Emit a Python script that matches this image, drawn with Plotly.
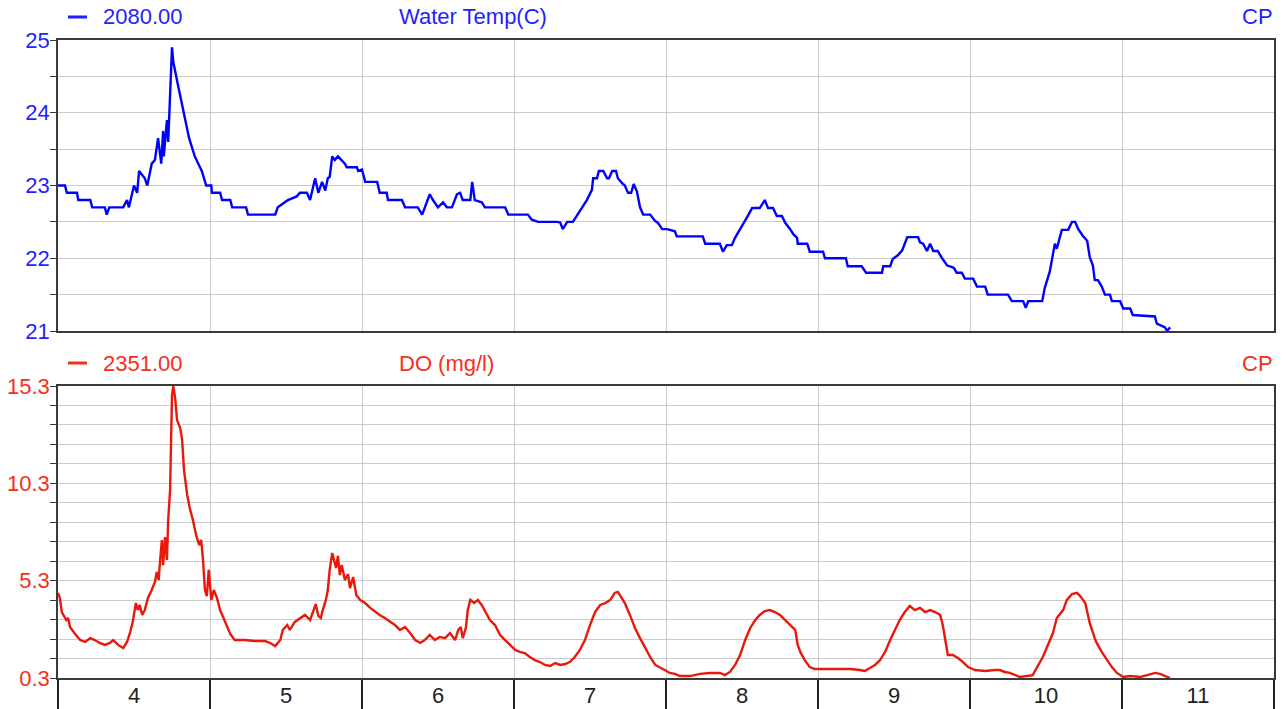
import plotly.graph_objects as go

# ---------------- data ----------------
day_labels = ["4", "5", "6", "7", "8", "9", "10", "11"]
first_day = 4

# Water Temp (C): hours since start of day 4, value (10 per line)
temp_hours = [
    0.0, 1.1, 1.4, 3.0, 3.2, 5.1, 5.4, 7.4, 7.7, 8.1,
    10.3, 10.9, 11.2, 12.0, 12.5, 12.8, 13.7, 14.1, 14.8, 15.3,
    15.8, 16.3, 16.6, 16.7, 17.2, 17.4, 18.0, 18.2, 18.9, 19.7,
    20.7, 21.6, 22.7, 23.4, 24.2, 24.3, 25.6, 25.9, 27.2, 27.5,
    29.7, 30.0, 34.3, 34.7, 36.3, 37.7, 38.2, 39.3, 39.8, 40.6,
    41.1, 41.7, 42.2, 42.6, 42.9, 43.3, 43.7, 44.2, 44.8, 45.3,
    45.6, 47.2, 47.4, 48.0, 48.5, 50.4, 50.8, 51.9, 52.1, 54.3,
    54.8, 56.8, 57.5, 57.9, 58.7, 59.2, 60.0, 60.8, 61.4, 62.2,
    63.0, 63.5, 63.9, 65.1, 65.4, 65.8, 66.9, 67.4, 70.6, 71.1,
    74.2, 74.8, 75.8, 78.9, 79.3, 79.7, 80.4, 81.3, 81.9, 82.7,
    83.5, 84.3, 84.5, 85.1, 85.4, 86.1, 86.7, 87.0, 87.5, 88.1,
    88.4, 89.1, 89.5, 90.0, 90.5, 90.9, 91.4, 91.9, 92.4, 93.5,
    94.3, 94.7, 95.4, 96.2, 97.4, 97.7, 101.8, 102.2, 104.5, 105.0,
    105.6, 106.4, 106.9, 107.7, 108.5, 108.9, 109.6, 110.8, 111.6, 112.1,
    112.9, 113.5, 114.3, 114.8, 115.6, 116.1, 116.7, 116.8, 118.3, 118.7,
    120.8, 121.1, 124.4, 124.7, 126.9, 127.6, 130.1, 130.3, 131.4, 131.8,
    132.6, 133.3, 134.1, 135.8, 136.1, 136.6, 137.2, 137.7, 138.2, 138.9,
    139.6, 140.4, 141.2, 141.5, 141.9, 142.7, 143.2, 144.5, 145.1, 146.4,
    146.8, 150.0, 150.6, 152.4, 152.8, 153.2, 155.4, 155.8, 156.6, 157.1,
    157.4, 157.7, 158.2, 158.5, 159.5, 160.1, 160.6, 161.1, 161.8, 162.5,
    162.9, 163.4, 163.7, 164.2, 164.8, 165.3, 166.1, 166.4, 167.7, 168.2,
    169.3, 169.7, 173.2, 173.5, 174.8, 175.1, 175.6]
temp_values = [
    23.0, 23.0, 22.9, 22.9, 22.8, 22.8, 22.7, 22.7, 22.6, 22.7,
    22.7, 22.8, 22.7, 23.0, 22.9, 23.2, 23.1, 23.0, 23.3, 23.35,
    23.65, 23.3, 23.75, 23.4, 23.9, 23.6, 24.9, 24.7, 24.4, 24.05,
    23.65, 23.4, 23.2, 23.0, 23.0, 22.9, 22.9, 22.8, 22.8, 22.7,
    22.7, 22.6, 22.6, 22.7, 22.8, 22.85, 22.9, 22.9, 22.8, 23.1,
    22.9, 23.05, 22.93, 23.1, 23.12, 23.4, 23.35, 23.4, 23.35, 23.3,
    23.25, 23.25, 23.2, 23.22, 23.05, 23.05, 22.9, 22.9, 22.8, 22.8,
    22.7, 22.7, 22.6, 22.7, 22.88, 22.8, 22.7, 22.77, 22.7, 22.7,
    22.88, 22.9, 22.8, 22.8, 23.05, 22.8, 22.77, 22.7, 22.7, 22.6,
    22.6, 22.53, 22.5, 22.5, 22.49, 22.4, 22.5, 22.5, 22.58, 22.68,
    22.8, 22.94, 23.1, 23.1, 23.2, 23.2, 23.1, 23.1, 23.2, 23.2,
    23.1, 23.03, 23.0, 22.9, 22.9, 23.02, 22.92, 22.7, 22.6, 22.6,
    22.51, 22.49, 22.4, 22.4, 22.37, 22.3, 22.3, 22.2, 22.2, 22.09,
    22.18, 22.18, 22.28, 22.4, 22.51, 22.58, 22.69, 22.69, 22.8, 22.69,
    22.69, 22.58, 22.58, 22.49, 22.4, 22.33, 22.28, 22.2, 22.2, 22.09,
    22.09, 22.0, 22.0, 21.89, 21.89, 21.8, 21.8, 21.89, 21.89, 21.99,
    22.04, 22.11, 22.29, 22.29, 22.22, 22.2, 22.1, 22.2, 22.1, 22.1,
    22.0, 21.9, 21.88, 21.86, 21.8, 21.8, 21.72, 21.72, 21.61, 21.61,
    21.5, 21.5, 21.41, 21.41, 21.32, 21.41, 21.41, 21.59, 21.82, 22.04,
    22.2, 22.13, 22.31, 22.39, 22.39, 22.5, 22.5, 22.4, 22.31, 22.24,
    22.02, 21.9, 21.7, 21.7, 21.61, 21.5, 21.5, 21.41, 21.41, 21.31,
    21.31, 21.22, 21.2, 21.1, 21.05, 21.0, 21.05]

# DO (mg/l): hours since start of day 4, value
do_hours = [0.0, 0.3, 0.6, 1.3, 1.6, 1.9, 2.7, 3.5, 4.3, 5.1, 5.8, 6.6, 7.4, 8.2, 8.7, 9.5, 10.3,
            10.9, 11.4, 11.8, 12.3, 12.6, 12.9, 13.3, 13.7, 14.2, 14.8, 15.3, 15.6, 15.9, 16.1,
            16.4, 16.6, 16.9, 17.2, 17.4, 17.7, 18.0, 18.2, 18.5, 18.8, 19.3, 19.6, 19.9, 20.4,
            20.8, 21.3, 21.8, 22.3, 22.6, 22.9, 23.2, 23.5, 23.8, 24.2, 24.6, 25.1, 25.6, 26.4,
            27.2, 27.9, 29.5, 31.1, 32.7, 33.5, 34.3, 35.1, 35.5, 36.2, 36.6, 37.4, 38.2, 39.0,
            39.8, 40.3, 40.7, 41.1, 41.5, 41.8, 42.3, 42.6, 42.9, 43.3, 43.6, 43.9, 44.2, 44.5,
            44.8, 45.3, 45.8, 46.1, 46.6, 47.1, 47.7, 48.5, 49.3, 50.1, 50.8, 51.6, 52.4, 53.2,
            54.0, 54.8, 55.6, 56.4, 57.2, 57.9, 58.7, 59.5, 60.3, 61.1, 61.9, 62.7, 63.2, 63.6,
            63.9, 64.4, 64.7, 65.1, 65.7, 66.3, 66.9, 67.6, 68.2, 69.0, 69.8, 70.6, 71.4, 72.2,
            72.9, 73.7, 74.5, 75.3, 76.1, 76.9, 77.7, 78.5, 79.3, 80.1, 80.8, 81.6, 82.4, 83.2,
            84.0, 84.8, 85.6, 86.4, 87.2, 87.9, 88.4, 88.7, 89.5, 90.3, 91.1, 91.9, 92.7, 93.5,
            94.3, 95.1, 95.8, 96.6, 97.4, 98.2, 99.8, 101.4, 102.9, 104.5, 105.3, 106.1, 106.9,
            107.7, 108.5, 109.3, 110.1, 110.8, 111.6, 112.4, 113.2, 114.0, 114.8, 115.6, 116.4,
            116.8, 117.2, 117.9, 118.7, 119.5, 121.9, 125.1, 126.6, 127.4, 128.2, 129.0, 129.8,
            130.6, 131.4, 132.2, 132.9, 133.7, 134.5, 135.3, 136.1, 136.9, 137.7, 138.5, 139.3,
            139.7, 140.1, 140.5, 141.3, 142.1, 142.9, 143.7, 144.8, 146.4, 147.9, 148.7, 149.5,
            150.3, 151.9, 152.7, 153.9, 155.5, 157.1, 157.7, 158.7, 159.3, 160.1, 160.9, 161.4,
            162.2, 162.9, 163.7, 164.0, 164.8, 165.6, 166.4, 167.2, 168.2, 169.3, 170.9, 172.0,
            173.2, 174.0, 174.8, 175.6]
do_values = [4.67, 4.41, 3.69, 3.28, 3.38, 2.92, 2.56, 2.25, 2.15, 2.35, 2.25, 2.10, 2.0, 2.1, 2.25, 2.0, 1.84,
             2.15, 2.66, 3.18, 4.15, 3.79, 4.05, 3.54, 3.79, 4.41, 4.82, 5.23, 5.75, 5.33, 6.26,
             7.39, 6.1, 7.54, 6.36, 8.42, 9.96, 14.84, 15.3, 14.68, 13.55, 13.14, 12.53, 10.98, 9.70,
             9.03, 8.42, 7.65, 7.13, 7.39, 6.36, 4.82, 4.51, 5.85, 4.31, 4.82, 4.41, 3.79, 3.18,
             2.56, 2.25, 2.25, 2.2, 2.2, 2.1, 1.94, 2.25, 2.77, 3.02, 2.77, 3.18, 3.38, 3.54,
             3.28, 3.79, 4.1, 3.49, 3.38, 3.79, 4.31, 4.82, 5.85, 6.72, 6.26, 5.95, 6.57, 5.59,
             6.1, 5.33, 5.64, 4.92, 5.49, 4.56, 4.31, 4.15, 3.9, 3.69, 3.54, 3.38, 3.18, 3.02,
             2.77, 2.92, 2.61, 2.25, 2.1, 2.25, 2.51, 2.25, 2.41, 2.35, 2.61, 2.25, 2.77, 2.92,
             2.35, 2.87, 3.79, 4.31, 4.15, 4.31, 4.05, 3.64, 3.28, 3.02, 2.51, 2.25, 2.0, 1.74,
             1.64, 1.58, 1.38, 1.22, 1.12, 0.97, 0.92, 1.07, 0.97, 1.02, 1.12, 1.38, 1.74, 2.25,
             3.02, 3.69, 4.05, 4.15, 4.31, 4.67, 4.72, 4.56, 4.15, 3.54, 2.87, 2.35, 1.84, 1.38,
             0.97, 0.81, 0.71, 0.56, 0.51, 0.40, 0.40, 0.51, 0.56, 0.56, 0.45, 0.61, 0.97,
             1.48, 2.25, 2.87, 3.28, 3.54, 3.74, 3.79, 3.69, 3.54, 3.28, 3.02, 2.77,
             2.0, 1.64, 1.22, 0.86, 0.76, 0.76, 0.76, 0.71, 0.66, 0.81, 0.97, 1.22,
             1.64, 2.25, 2.77, 3.28, 3.69, 4.0, 3.79, 3.9, 3.69, 3.79, 3.69, 3.54,
             3.02, 2.25, 1.48, 1.48, 1.33, 1.12, 0.86, 0.71, 0.66, 0.71, 0.71, 0.61,
             0.56, 0.35, 0.40, 0.45, 1.38, 2.61, 3.38, 3.79, 4.31, 4.61, 4.67, 4.51,
             4.15, 3.13, 2.35, 2.1, 1.64, 1.22, 0.86, 0.56, 0.35, 0.40, 0.35, 0.45,
             0.56, 0.51, 0.40, 0.30]

temp_ticks = [21, 22, 23, 24, 25]
do_ticks = [0.3, 5.3, 10.3, 15.3]
temp_label = "2080.00"
do_label = "2351.00"
temp_title = "Water Temp(C)"
do_title = "DO (mg/l)"
site = "CP"

# ---------------- styles ----------------
BLUE_LINE = "#0000ff"
BLUE_TXT = "#1f1fff"
RED_LINE = "#e8190b"
RED_TXT = "#f5301a"
GRID = "#cccccc"
AXIS = "#3a3a3a"
FONT = "Liberation Sans, Arial, sans-serif"
FS = 22

n_days = len(day_labels)
tx = [first_day + h / 24 for h in temp_hours]
dx = [first_day + h / 24 for h in do_hours]

fig = go.Figure()
fig.add_trace(go.Scatter(x=tx, y=temp_values, mode="lines",
                         line=dict(color=BLUE_LINE, width=2.4), xaxis="x", yaxis="y",
                         showlegend=False, hoverinfo="skip"))
fig.add_trace(go.Scatter(x=dx, y=do_values, mode="lines",
                         line=dict(color=RED_LINE, width=2.4), xaxis="x2", yaxis="y2",
                         showlegend=False, hoverinfo="skip"))

boundaries = list(range(first_day, first_day + n_days + 1))
centers = [first_day + i + 0.5 for i in range(n_days)]
xr = [first_day, first_day + n_days]

top_bottom = (709 - 31 - 331) / 638
bot_top = (678 - 386) / 638

fig.update_layout(
    width=1287, height=709,
    margin=dict(l=58, r=13, t=40, b=31, autoexpand=False),
    paper_bgcolor="white", plot_bgcolor="white",
    font=dict(family=FONT, size=FS),
    xaxis=dict(domain=[0, 1], range=xr, anchor="y", tickmode="array", tickvals=boundaries,
               showticklabels=False, ticks="", showgrid=True, gridcolor=GRID, gridwidth=1,
               showline=True, linecolor=AXIS, linewidth=1.5, mirror=True, zeroline=False,
               automargin=False),
    yaxis=dict(domain=[top_bottom, 1], range=[21, 25], anchor="x", tickmode="array",
               tickvals=temp_ticks, ticktext=[str(v) for v in temp_ticks],
               tickfont=dict(color=BLUE_TXT, size=FS), ticks="outside", ticklen=6,
               tickcolor=AXIS, showgrid=True, gridcolor=GRID,
               minor=dict(tickmode="linear", tick0=21, dtick=0.5, ticks="outside", ticklen=6,
                          tickcolor=AXIS, showgrid=True, gridcolor=GRID),
               showline=True, linecolor=AXIS, linewidth=1.5, mirror=True, zeroline=False,
               ticklabelstandoff=-4, automargin=False),
    xaxis2=dict(domain=[0, 1], range=xr, anchor="y2", tickmode="array", tickvals=centers,
                ticktext=day_labels, tickfont=dict(color="#222222", size=FS), ticks="",
                showgrid=False, ticklabelstandoff=-3, automargin=False,
                minor=dict(tickmode="array", tickvals=boundaries, ticks="outside", ticklen=31,
                           tickcolor="#222222", tickwidth=1.5, showgrid=True, gridcolor=GRID),
                showline=True, linecolor=AXIS, linewidth=1.5, mirror=True, zeroline=False),
    yaxis2=dict(domain=[0, bot_top], range=[0.3, 15.3], anchor="x2", tickmode="array",
                tickvals=do_ticks, ticktext=[f"{v:.1f}" for v in do_ticks],
                tickfont=dict(color=RED_TXT, size=FS), ticks="outside", ticklen=6,
                tickcolor=AXIS, showgrid=True, gridcolor=GRID,
                minor=dict(tickmode="linear", tick0=0.3, dtick=1, ticks="outside", ticklen=6,
                           tickcolor=AXIS, showgrid=True, gridcolor=GRID),
                showline=True, linecolor=AXIS, linewidth=1.5, mirror=True, zeroline=False,
                ticklabelstandoff=-4, automargin=False),
)

W = 1216.0
H = 638.0
def px(x):
    return (x - 58) / W
def py(y):
    return (709 - 31 - y) / H

for y_px, col, lab, title in [(17, BLUE_TXT, temp_label, temp_title),
                              (363, RED_TXT, do_label, do_title)]:
    fig.add_shape(type="line", xref="paper", yref="paper", x0=px(68), x1=px(87),
                  y0=py(y_px), y1=py(y_px), line=dict(color=col, width=3))
    fig.add_annotation(xref="paper", yref="paper", x=px(101), y=py(y_px), text=lab,
                       showarrow=False, xanchor="left", yanchor="middle",
                       font=dict(color=col, size=FS, family=FONT))
    fig.add_annotation(xref="paper", yref="paper", x=px(397), y=py(y_px), text=title,
                       showarrow=False, xanchor="left", yanchor="middle",
                       font=dict(color=col, size=FS, family=FONT))
    fig.add_annotation(xref="paper", yref="paper", x=px(1275), y=py(y_px), text=site,
                       showarrow=False, xanchor="right", yanchor="middle",
                       font=dict(color=col, size=FS, family=FONT))

fig.write_html("out.html", config={"displayModeBar": False},
               post_script="document.body.style.margin='0';document.body.style.overflow='hidden';")
